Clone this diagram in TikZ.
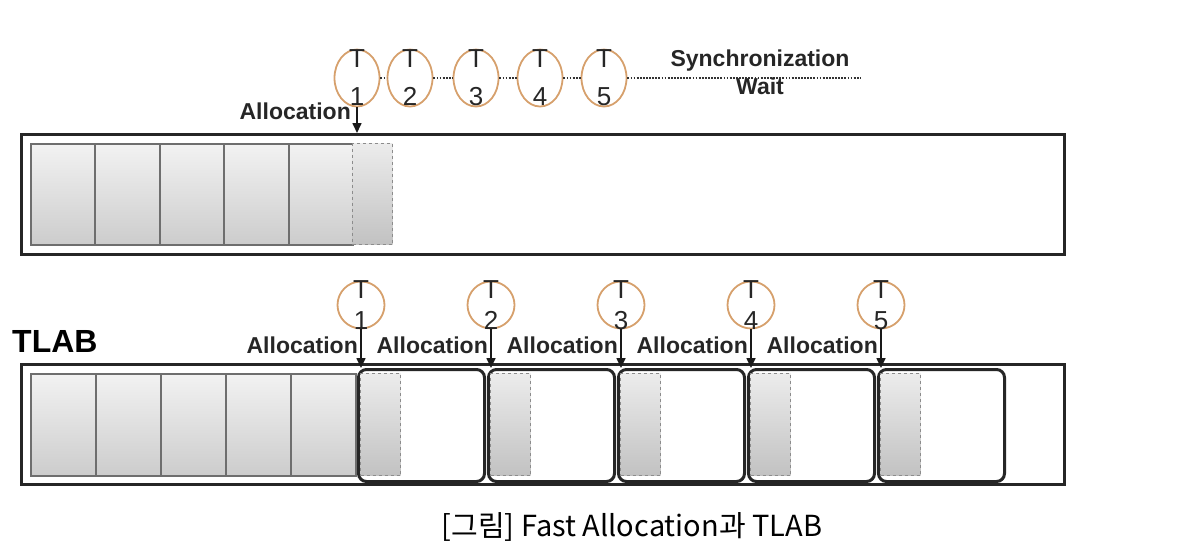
\documentclass[tikz,border=0pt]{standalone}
\usepackage{fontspec}
\setmainfont{Liberation Sans}
\newfontfamily\krfont{Noto Sans CJK KR}
\usepackage{tikz}
\usetikzlibrary{shapes.geometric, arrows.meta, positioning, calc}
\definecolor{threadorange}{RGB}{214, 160, 108}
\definecolor{cellgray}{RGB}{110, 110, 110}
\tikzstyle{heap} = [rectangle, draw=black!85, line width=2.6pt, fill=white, inner sep=0pt]
\tikzstyle{cell} = [rectangle, draw=cellgray, line width=2pt, top color=gray!10, bottom color=gray!40, inner sep=0pt]
\tikzstyle{newcell} = [rectangle, draw=gray!90, dashed, line width=1.2pt, top color=gray!15, bottom color=gray!48, inner sep=0pt]
\tikzstyle{tlab} = [rectangle, draw=black!85, line width=3pt, rounded corners=8pt, fill=white, inner sep=0pt]
\tikzstyle{thread} = [ellipse, draw=threadorange, line width=1.8pt, inner sep=0pt]
\tikzstyle{tname} = [align=center, inner sep=0pt, text=black!85]
\tikzstyle{lbl} = [font=\bfseries\fontsize{23}{26}\selectfont, inner sep=0pt, text=black!85]
\tikzstyle{syncline} = [line width=1.8pt, dash pattern=on 1.8pt off 1.3pt, black!80]
\tikzstyle{arrow} = [-{Triangle[length=10pt, width=9pt]}, line width=1.6pt, black!90]

\begin{document}
\begin{tikzpicture}[x=1pt, y=-1pt]
    \useasboundingbox (0, 0) rectangle (1194, 550);

    % Without TLAB: shared heap
    \node[heap, anchor=north west, minimum width=1043, minimum height=120] (heap1) at (20, 133) {};
    \foreach \i in {0,...,4}
        \node[cell, anchor=north west, minimum width=64.4, minimum height=101] (used\i) at ({30+64.4*\i}, 143) {};
    \node[newcell, anchor=north west, minimum width=40, minimum height=101] (topnew) at (352, 143) {};

    % threads waiting on one pointer
    \foreach \x [count=\n] in {357, 410, 476, 540, 604} {
        \node[thread, minimum width=45, minimum height=57] (s\n) at (\x, 78) {};
        \node[tname, font=\fontsize{26}{38}\selectfont] at (s\n) {T\\\n};
    }
    \foreach \a/\b in {1/2, 2/3, 3/4, 4/5}
        \draw[syncline] (s\a) -- (s\b);
    \coordinate (syncend) at (860, 73);
    \draw[syncline] (s5.east) -- (s5.east -| syncend);
    \node[lbl, anchor=base] (sync) at (760, 66) {Synchronization};
    \node[lbl, anchor=base] (wait) at (760, 94) {Wait};

    \node[lbl, anchor=base east] (alloc0) at (351, 119) {Allocation};
    \draw[arrow] (s1.south) -- (s1.south |- heap1.north);

    % With TLAB
    \node[font=\bfseries\fontsize{32}{36}\selectfont, anchor=base west, inner sep=0pt] (tlabtitle) at (12, 352) {TLAB};
    \node[heap, anchor=north west, minimum width=1043, minimum height=120] (heap2) at (20, 363) {};
    \foreach \i in {0,...,4}
        \node[cell, anchor=north west, minimum width=65, minimum height=102] (old\i) at ({30+65*\i}, 373) {};

    \foreach \x [count=\n] in {357, 487, 617, 747, 877} {
        \node[tlab, anchor=north west, minimum width=126, minimum height=112] (tlab\n) at (\x, 368) {};
        \node[newcell, anchor=north west, minimum width=40, minimum height=102] (new\n) at (\x+3, 373) {};
        \node[thread, minimum width=47, minimum height=47] (t\n) at (\x+4, 305) {};
        \node[tname, font=\fontsize{26}{31}\selectfont] at (t\n) {T\\\n};
        \node[lbl, anchor=base east] (alloc\n) at (\x+1, 353) {Allocation};
        \draw[arrow] (t\n.south) -- (t\n.south |- tlab\n.north);
    }

    % caption
    \node[font=\krfont\fontsize{29}{32}\selectfont, anchor=base] (caption) at (632, 536) {[그림] Fast Allocation과 TLAB};
\end{tikzpicture}
\end{document}
